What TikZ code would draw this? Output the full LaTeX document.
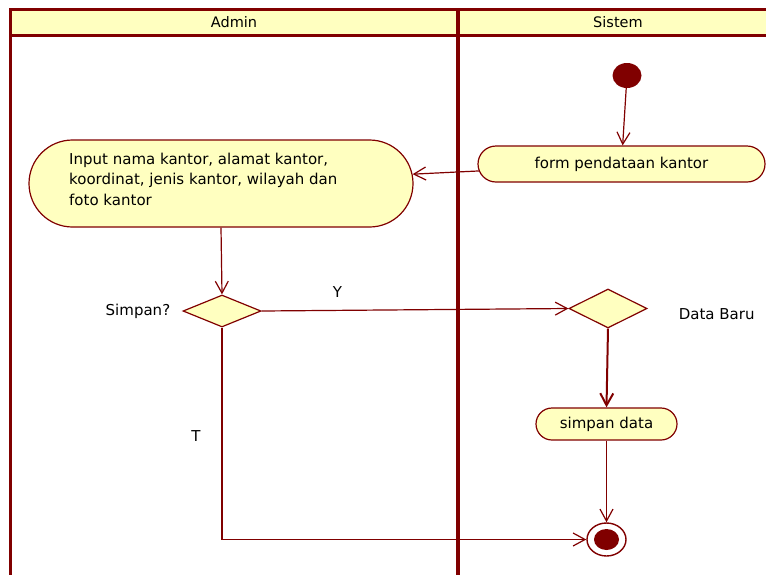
\documentclass[tikz,border=0pt]{standalone}
\usepackage{fontspec}
\setmainfont{DejaVu Sans}
\usetikzlibrary{shapes.misc,shapes.geometric,arrows.meta}
\definecolor{umlred}{RGB}{128,0,0}
\definecolor{umlfill}{RGB}{255,255,192}
\tikzset{
  act/.style={rounded rectangle, draw=umlred, fill=umlfill, line width=1.2pt, inner sep=0pt},
  decision/.style={diamond, draw=umlred, fill=umlfill, line width=1.2pt, inner sep=0pt, minimum width=78pt},
  flow/.style={draw=umlred, line width=1.2pt, -{Straight Barb[length=12pt,width=13pt,line width=1.2pt]}},
  bigflow/.style={draw=umlred, line width=2pt, -{Straight Barb[length=12pt,width=13pt,line width=2pt]}},
  lbl/.style={inner sep=0pt, text=black},
}
\begin{document}
\begin{tikzpicture}[x=1pt, y=-1pt, font=\fontsize{15}{20.5}\selectfont]
\useasboundingbox (0,0) rectangle (766,574);
\clip (0,0) rectangle (766,574);

% swimlane frame with header row
\fill[umlfill] (10,9) rectangle (790,35.5);
\draw[umlred, line width=3pt] (10,600) -- (10,9) -- (790,9);
\draw[umlred, line width=3pt] (10,35.5) -- (790,35.5);
\draw[umlred, line width=4pt] (458,9) -- (458,600);
\node[lbl, font=\fontsize{14.5}{17}\selectfont] (laneadmin) at (234,22) {Admin};
\node[lbl, font=\fontsize{14.5}{17}\selectfont] (lanesistem) at (618,22) {Sistem};

% activity nodes
\node[ellipse, fill=umlred, inner sep=0pt, minimum width=29pt, minimum height=25pt] (init) at (627,75.5) {};
\node[act, minimum width=287pt, minimum height=36pt] (form) at (621.5,164) {form pendataan kantor};
\node[act, minimum width=384pt, minimum height=87pt] (input) at (221,183.5) {};
\node[lbl, anchor=north west, align=left] (inputtext) at (69,152.5)
  {Input nama kantor, alamat kantor,\\koordinat, jenis kantor, wilayah dan\\foto kantor};
\node[decision, minimum height=32pt] (simpan) at (222,311) {};
\node[lbl, anchor=east] (simpanq) at ([xshift=-12pt]simpan.west) {Simpan?};
\node[decision, minimum height=39pt] (baru) at (608,308.5) {};
\node[lbl, anchor=west] (barulbl) at ([xshift=31pt,yshift=-5.5pt]baru.east) {Data Baru};
\node[act, minimum width=141pt, minimum height=32pt] (save) at (606.5,424) {simpan data};
\node[ellipse, draw=umlred, fill=white, line width=1.4pt, inner sep=0pt,
      minimum width=39pt, minimum height=33pt,
      path picture={\fill[umlred] (path picture bounding box.center) ellipse (12.5pt and 10.5pt);}]
      (final) at (606.5,539.5) {};

% control flows
\draw[flow] (init) -- (form);
\draw[flow] (form) -- (input);
\draw[flow] (input.south) -- (simpan.north);
\draw[flow] (simpan.east) -- node[lbl, pos=0.247, yshift=18pt] (ylbl) {Y} (baru.west);
\draw[bigflow] (baru.south) -- (save.north);
\draw[flow] (save.south) -- (final.north);
\draw[flow] (simpan.south) |- node[lbl, pos=0.256, xshift=-26pt] (tlbl) {T} (final.west);
\end{tikzpicture}
\end{document}
